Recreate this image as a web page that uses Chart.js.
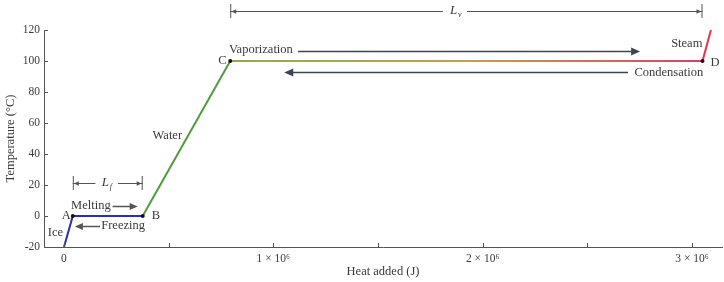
<!DOCTYPE html>
<html>
<head>
<meta charset="utf-8">
<script src="https://cdn.jsdelivr.net/npm/chart.js@4.4.0/dist/chart.umd.min.js"></script>
<style>
  html, body { margin: 0; padding: 0; background: #fff; }
  #wrap { width: 724px; height: 282px; }
</style>
</head>
<body>
<div id="wrap"><canvas id="chart" width="724" height="282"></canvas></div>
<script>
// heating curve of 1 kg of water
const heatJ = [0, 0.042e6, 0.376e6, 0.794e6, 3.05e6, 3.09e6];
const tempC = [-20, 0, 0, 100, 100, 120];
const pointNames = ['', 'A', 'B', 'C', 'D', ''];
const xMajorTicks = [0, 1e6, 2e6, 3e6];
const xMinorTicks = [0.5e6, 1.5e6, 2.5e6];
const yTicks = [-20, 0, 20, 40, 60, 80, 100, 120];

const SERIF = '"Liberation Serif", "DejaVu Serif", serif';
const TEXT = '#3a3a3a';

const segColors = ['#2a32a0', '#2a32a0', '#4f9c3a', null, '#f03048'];

function segColor(ctx) {
  const c = segColors[ctx.p0DataIndex];
  if (c) return c;
  // vaporization plateau fades from green-yellow to red-magenta
  const g = ctx.chart.ctx.createLinearGradient(ctx.p0.x, 0, ctx.p1.x, 0);
  g.addColorStop(0, '#8aae4c');
  g.addColorStop(0.5, '#c8a050');
  g.addColorStop(1, '#e03c64');
  return g;
}

function arrowHead(c, x, y, dir, size) {
  c.beginPath();
  c.moveTo(x, y);
  c.lineTo(x - dir * size, y - size * 0.45);
  c.lineTo(x - dir * size, y + size * 0.45);
  c.closePath();
  c.fill();
}

function arrow(c, x1, x2, y, color, width, size) {
  const dir = x2 > x1 ? 1 : -1;
  c.strokeStyle = color;
  c.fillStyle = color;
  c.lineWidth = width;
  c.beginPath();
  c.moveTo(x1, y);
  c.lineTo(x2 - dir * size * 0.8, y);
  c.stroke();
  arrowHead(c, x2, y, dir, size);
}

// dimension line with end bars and italic L label in a gap
function dimension(c, x1, x2, y, gapL, gapR, sub) {
  c.strokeStyle = '#555';
  c.fillStyle = '#555';
  c.lineWidth = 1;
  c.beginPath();
  c.moveTo(x1 + 0.5, y - 7); c.lineTo(x1 + 0.5, y + 7);
  c.moveTo(x2 - 0.5, y - 7); c.lineTo(x2 - 0.5, y + 7);
  c.moveTo(x1, y + 0.5); c.lineTo(gapL, y + 0.5);
  c.moveTo(gapR, y + 0.5); c.lineTo(x2, y + 0.5);
  c.stroke();
  arrowHead(c, x1 + 1, y + 0.5, -1, 5);
  arrowHead(c, x2 - 1, y + 0.5, 1, 5);
  const mid = (gapL + gapR) / 2;
  c.fillStyle = TEXT;
  c.textBaseline = 'middle';
  c.textAlign = 'left';
  c.font = 'italic 13px ' + SERIF;
  c.fillText('L', mid - 5, y);
  c.font = 'italic 8px ' + SERIF;
  c.fillText(sub, mid + 3, y + 4);
}

const annotations = {
  id: 'annotations',
  afterDatasetsDraw(chart) {
    const c = chart.ctx;
    const xs = chart.scales.x, ys = chart.scales.y;
    const X = v => xs.getPixelForValue(v);
    const Y = v => ys.getPixelForValue(v);
    const area = chart.chartArea;
    c.save();

    // inward tick marks
    c.strokeStyle = '#555';
    c.lineWidth = 1;
    c.beginPath();
    xMajorTicks.concat(xMinorTicks).forEach(v => {
      const px = Math.round(X(v)) + 0.5;
      c.moveTo(px, area.bottom); c.lineTo(px, area.bottom - 4);
    });
    yTicks.forEach(v => {
      const py = Math.round(Y(v)) + 0.5;
      c.moveTo(area.left, py); c.lineTo(area.left + 4, py);
    });
    c.stroke();

    // point letters
    c.fillStyle = TEXT;
    c.font = '12.5px ' + SERIF;
    c.textBaseline = 'middle';
    const offs = [null, [-11, 0], [9, 0], [-12, 0], [8, 2], null];
    pointNames.forEach((n, i) => {
      if (!n) return;
      c.textAlign = 'left';
      c.fillText(n, X(heatJ[i]) + offs[i][0], Y(tempC[i]) + offs[i][1]);
    });

    c.textAlign = 'right';
    c.fillText('Ice', X(heatJ[0]) - 1, Y(-10.5));
    c.textAlign = 'left';
    c.fillText('Water', X(0.423e6), Y(52));
    c.fillText('Steam', X(2.9e6), Y(111));
    c.fillText('Melting', X(0.034e6), Y(6.5));
    c.fillText('Freezing', X(0.178e6), Y(-6.5));
    c.fillText('Vaporization', X(0.788e6), Y(107));
    c.fillText('Condensation', X(2.725e6), Y(92.5));

    arrow(c, X(0.232e6), X(0.352e6), Math.round(Y(6.5)) + 0.5, '#555', 1.5, 8);
    arrow(c, X(0.172e6), X(0.052e6), Math.round(Y(-6.5)) + 0.5, '#555', 1.5, 8);
    arrow(c, X(1.118e6), X(2.752e6), Math.round(Y(106.5)) + 0.5, '#3d4650', 1.5, 9);
    arrow(c, X(2.694e6), X(1.052e6), Math.round(Y(93)) + 0.5, '#3d4650', 1.5, 9);

    dimension(c, X(heatJ[1]), X(heatJ[2]), Math.round(Y(21.3)), X(0.15e6), X(0.258e6), 'f');
    dimension(c, X(heatJ[3]), X(heatJ[4]), Math.round(Y(132)), X(1.81e6), X(1.925e6), 'v');

    c.restore();
  }
};

new Chart(document.getElementById('chart'), {
  type: 'line',
  data: {
    labels: heatJ,
    datasets: [{
      data: heatJ.map((x, i) => ({ x, y: tempC[i] })),
      borderWidth: 2,
      borderColor: '#2a32a0',
      segment: { borderColor: segColor },
      pointRadius: pointNames.map(n => (n ? 2 : 0)),
      pointBackgroundColor: '#111',
      pointBorderWidth: 0,
      tension: 0,
      fill: false
    }]
  },
  options: {
    responsive: false,
    animation: false,
    events: [],
    layout: { padding: { top: 30, right: 2, left: 0, bottom: 0 } },
    plugins: {
      legend: { display: false },
      tooltip: { enabled: false }
    },
    scales: {
      x: {
        type: 'linear',
        min: -0.0955e6,
        max: 3.143e6,
        afterBuildTicks: s => { s.ticks = xMajorTicks.concat(xMinorTicks).sort((a, b) => a - b).map(v => ({ value: v })); },
        afterFit: s => { s.height = 35; },
        ticks: {
          autoSkip: false,
          maxRotation: 0,
          padding: 5,
          color: TEXT,
          font: { family: SERIF, size: 11.5 },
          callback: v => {
            if (v === 0) return '0';
            if (xMajorTicks.includes(v)) return (v / 1e6) + ' \u00d7 10\u2076';
            return '';
          }
        },
        grid: { drawOnChartArea: false, drawTicks: false },
        border: { color: '#555', width: 1 },
        title: {
          display: true,
          text: 'Heat added (J)',
          color: TEXT,
          font: { family: SERIF, size: 12.5 },
          padding: { top: 0, bottom: 3 }
        }
      },
      y: {
        min: -20,
        max: 120,
        afterBuildTicks: s => { s.ticks = yTicks.map(v => ({ value: v })); },
        afterFit: s => { s.width = 44; },
        ticks: {
          padding: 4,
          color: TEXT,
          font: { family: SERIF, size: 11.5 }
        },
        grid: { drawOnChartArea: false, drawTicks: false },
        border: { color: '#555', width: 1 },
        title: {
          display: true,
          text: 'Temperature (\u00b0C)',
          color: TEXT,
          font: { family: SERIF, size: 12.5 },
          padding: { top: 3, bottom: 0 }
        }
      }
    }
  },
  plugins: [annotations]
});
</script>
</body>
</html>
